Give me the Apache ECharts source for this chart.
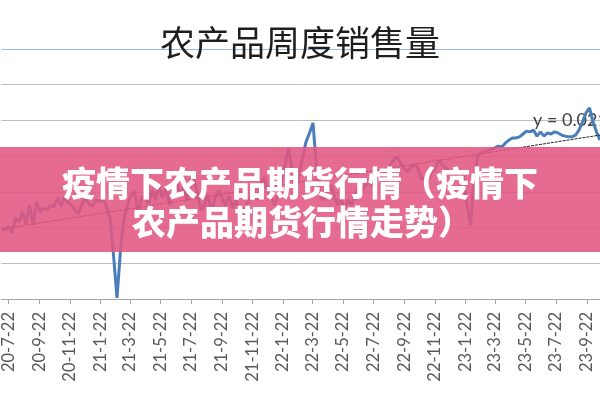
<!DOCTYPE html>
<html><head><meta charset="utf-8">
<script src="https://cdn.jsdelivr.net/npm/echarts@6/dist/echarts.min.js"></script>
<style>html,body{margin:0;padding:0;background:#fff}#c{width:600px;height:400px}</style>
</head><body><div id="c"></div>
<script>
const chartTitle = '农产品周度销售量';
const bannerLines = ['疫情下农产品期货行情（疫情下', '农产品期货行情走势）'];
const trendLabel = 'y = 0.0213x - 882.6';
const firstWeek = '2020-07-08';
const axisStart = '2020-07-08';
const axisEnd = '2023-10-18';
const tickLabels = ['20-7-22','20-9-22','20-11-22','21-1-22','21-3-22','21-5-22','21-7-22','21-9-22','21-11-22','22-1-22',
  '22-3-22','22-5-22','22-7-22','22-9-22','22-11-22','23-1-22','23-3-22','23-5-22','23-7-22','23-9-22'];
const weeklySales = [
  19.9,19.3,20.4,18.5,22.7,21.6,24.4,21.0,26.3,20.7,
  27.2,24.4,25.5,24.9,26.3,25.8,28.3,26.0,28.6,26.9,
  26.3,24.9,23.8,26.6,28.3,26.6,26.0,27.7,27.2,28.3,
  25.8,22.7,12.3,0.3,13.7,22.7,26.3,29.1,30.0,24.4,
  28.3,29.1,26.3,30.5,27.7,31.9,28.3,31.1,26.3,30.0,
  32.8,28.8,31.1,27.7,33.3,33.9,29.1,24.9,26.3,29.1,
  24.4,28.3,30.5,28.3,26.3,28.8,25.5,27.7,24.9,22.7,
  26.3,28.3,30.5,27.7,31.9,34.2,30.5,28.6,26.3,29.1,
  33.3,37.5,42.3,36.1,29.7,34.7,39.5,44.0,46.5,49.3,
  36.7,29.1,27.7,30.5,31.9,29.1,26.3,28.3,24.9,27.7,
  26.3,29.1,31.1,30.0,31.9,32.8,31.6,33.3,33.9,34.7,
  36.1,37.5,38.9,39.8,38.1,36.7,35.6,37.0,37.5,36.7,
  33.3,34.4,33.9,35.6,36.7,38.9,37.5,36.7,35.6,33.9,
  34.7,36.1,34.2,26.3,20.7,33.3,40.0,40.9,41.2,41.7,
  42.0,42.3,42.8,42.6,43.7,44.5,45.1,45.1,45.4,46.2,
  47.0,46.8,47.3,45.6,46.8,45.6,46.5,46.2,46.8,46.5,
  45.9,45.6,45.4,45.4,45.9,47.3,49.6,52.1,53.5,49.6,
  46.8,44.5
];
const trendDates = ['2020-07-08', '2023-10-18'];
const trendValues = [19.6, 45.9];

function ts(s) { const [y, m, d] = s.split('-').map(Number); return Date.UTC(y, m - 1, d); }
function tickTs(s) { const [y, m, d] = s.split('-').map(Number); return Date.UTC(2000 + y, m - 1, d); }
const [fy, fm, fd] = firstWeek.split('-').map(Number);
const lineData = weeklySales.map((v, i) => [Date.UTC(fy, fm - 1, fd + 7 * i), v]);
const trendData = trendDates.map((d, i) => [ts(d), trendValues[i]]);
const tickValues = tickLabels.map(tickTs);

const chart = echarts.init(document.getElementById('c'), null, { renderer: 'canvas' });
chart.setOption({
  animation: false,
  backgroundColor: '#fff',
  title: {
    text: chartTitle, left: 'center', top: 20,
    textStyle: { fontSize: 35, fontWeight: 'normal', fontFamily: '"Noto Sans CJK SC"', color: '#1e1e1e' }
  },
  grid: { left: 0, right: 0, top: 49, bottom: 101, containLabel: false },
  xAxis: {
    type: 'value', min: ts(axisStart), max: ts(axisEnd),
    axisLine: { show: true, lineStyle: { color: '#A6A6A6', width: 1 } },
    axisTick: { show: true, customValues: tickValues, length: 5, lineStyle: { color: '#A6A6A6' } },
    axisLabel: {
      customValues: tickValues, rotate: 90, margin: 13, fontFamily: 'Lato', fontSize: 16.5, color: '#595959',
      formatter: (val) => { const i = tickValues.indexOf(val); return i >= 0 ? tickLabels[i] : ''; }
    },
    splitLine: { show: false }
  },
  yAxis: {
    type: 'value', min: 0, max: 70, interval: 10,
    axisLabel: { show: false }, axisLine: { show: false }, axisTick: { show: false },
    splitLine: { show: true, lineStyle: { color: ['#BFBFBF','#BFBFBF','#BFBFBF','#BFBFBF','#BFBFBF','#BFBFBF','#BFBFBF','#9DB8DA'], width: 1 } }
  },
  series: [
    { type: 'line', data: lineData, showSymbol: false, symbol: 'none', z: 3,
      lineStyle: { color: '#4A7EBB', width: 3 } },
    { type: 'line', data: trendData, showSymbol: false, symbol: 'none', z: 4,
      lineStyle: { color: '#222', width: 1, type: [3, 1] } }
  ],
  graphic: [
    { type: 'text', x: 533, y: 120, z: 1,
      style: { text: trendLabel, fill: '#404040', font: '18px Lato', textVerticalAlign: 'middle', verticalAlign: 'middle' } },
    { type: 'rect', shape: { x: 0, y: 147, width: 600, height: 105 }, z: 100,
      style: { fill: 'rgba(225,86,129,0.88)' } },
    { type: 'text', x: 300, y: 183, z: 101,
      style: { text: bannerLines[0], fill: '#fff', font: '900 34px "Noto Sans CJK SC"', textAlign: 'center', align: 'center', textVerticalAlign: 'middle', verticalAlign: 'middle' } },
    { type: 'text', x: 302, y: 222, z: 101,
      style: { text: bannerLines[1], fill: '#fff', font: '900 34px "Noto Sans CJK SC"', textAlign: 'center', align: 'center', textVerticalAlign: 'middle', verticalAlign: 'middle' } }
  ]
});
</script></body></html>
